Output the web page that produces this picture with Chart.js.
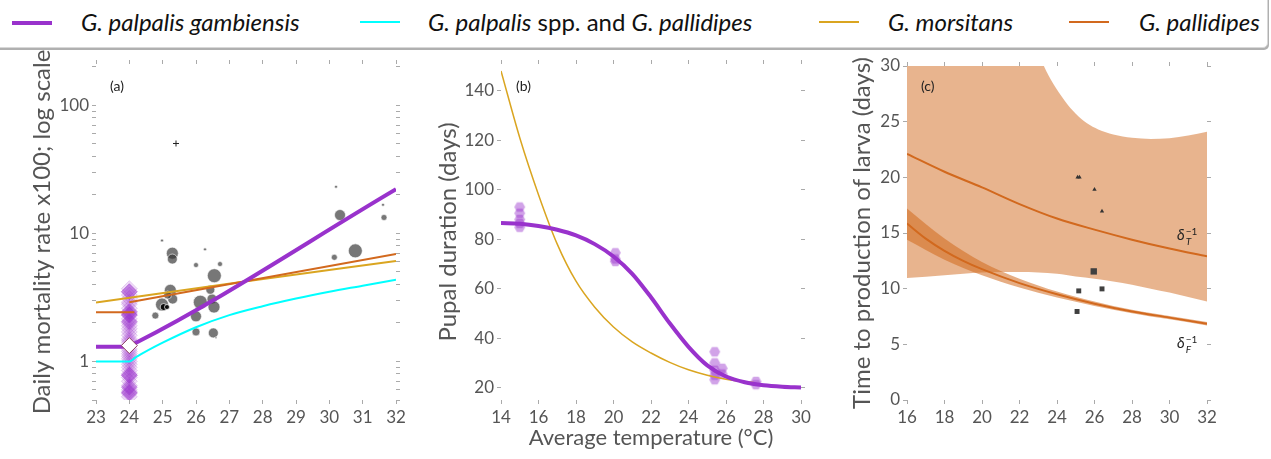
<!DOCTYPE html>
<html>
<head>
<meta charset="utf-8">
<script src="https://cdn.jsdelivr.net/npm/chart.js@4.4.1/dist/chart.umd.min.js"></script>
<style>
  body { margin: 0; width: 1271px; height: 459px; background: #fff; position: relative; overflow: hidden; font-family: Lato, sans-serif; }
  canvas { position: absolute; }
  #legend { position: absolute; left: -6px; top: -12px; width: 1272px; height: 58px; border: 1px solid #d8d8d8; border-radius: 5px; box-shadow: 1px 2px 0 #b0b0b0; background: #fff; }
  .sw { position: absolute; top: 32px; width: 40px; }
  .lt { position: absolute; top: 19px; font-size: 24px; line-height: 28px; color: #111; white-space: nowrap; }
  .panel { position: absolute; font-size: 14px; color: #222; }
  .dl { position: absolute; font-size: 15px; color: #222; white-space: nowrap; }
  .ss { display: inline-block; vertical-align: middle; font-size: 10px; line-height: 10px; margin-left: 1px; }
  .ss span { display: block; }
</style>
</head>
<body>
<div id="legend">
  <span class="sw" style="left:17px;height:4px;background:#9932cc"></span>
  <span class="lt" style="left:86px"><i>G. palpalis gambiensis</i></span>
  <span class="sw" style="left:365px;height:2px;background:#00ffff"></span>
  <span class="lt" style="left:433px"><i>G. palpalis</i> spp. and <i>G. pallidipes</i></span>
  <span class="sw" style="left:824px;height:2px;background:#daa520"></span>
  <span class="lt" style="left:893px"><i>G. morsitans</i></span>
  <span class="sw" style="left:1074px;height:2px;background:#d2691e"></span>
  <span class="lt" style="left:1144px"><i>G. pallidipes</i></span>
</div>

<canvas id="chartA" width="420" height="409" style="left:0;top:50px"></canvas>
<canvas id="chartB" width="420" height="409" style="left:420px;top:50px"></canvas>
<canvas id="chartC" width="431" height="409" style="left:840px;top:50px"></canvas>

<div class="panel" style="left:110px;top:77px">(a)</div>
<div class="panel" style="left:516px;top:77px">(b)</div>
<div class="panel" style="left:921px;top:77px">(c)</div>
<div class="dl" style="left:1177px;top:225px"><i>δ</i><span class="ss"><span>−1</span><span><i>T</i></span></span></div>
<div class="dl" style="left:1177px;top:333px"><i>δ</i><span class="ss"><span>−1</span><span><i>F</i></span></span></div>

<script>
// ---- panel (a): daily mortality, log scale ----
const tempTicksA = [23, 24, 25, 26, 27, 28, 29, 30, 31, 32];
const mortTicks = [0.5, 0.6, 0.7, 0.8, 0.9, 1, 2, 3, 4, 5, 6, 7, 8, 9, 10, 20, 30, 40, 50, 60, 70, 80, 90, 100, 200];
const mortLabels = [1, 10, 100];

const gambMortT = [23, 23.8, 24.0, 24.2, 32];
const gambMortV = [1.30, 1.30, 1.33, 1.40, 22.1];
const palpMortT = [23, 24, 24.2, 25, 26, 27, 28, 29, 30, 31, 32];
const palpMortV = [1.0, 1.0, 1.08, 1.4, 1.85, 2.3, 2.7, 3.1, 3.5, 3.9, 4.35];
const morsMortT = [23, 27.3, 32];
const morsMortV = [2.89, 4.15, 6.08];
const pallFlatT = [23, 24.15];
const pallFlatV = [2.42, 2.42];
const pallMortT = [24, 32];
const pallMortV = [2.9, 6.9];

// gambiensis observations at 24 °C (diamonds)
const gambObsV = [3.7, 3.5, 3.3, 3.1, 2.9, 2.8, 2.6, 2.4, 2.35, 2.3, 2.15, 2.0, 1.9, 1.8, 1.7, 1.6, 1.5, 1.45,
                  1.4, 1.25, 1.2, 1.15, 1.1, 1.05, 1.0, 0.95, 0.9, 0.85, 0.8, 0.78, 0.75, 0.7, 0.65, 0.6, 0.58, 0.56, 0.53];
const gambObsDarkV = [3.5, 2.45, 2.3, 2.05, 0.78, 0.63, 0.57];
const gambMeanV = 1.33;

// field observations (grey circles)
const fieldT = [24.98, 25.29, 25.29, 26.27, 26.0, 26.72, 26.55, 25.23, 25.30, 24.98, 24.78, 26.13, 26.0, 26.48, 26.54, 26.0, 26.52, 26.6,
                25.15, 26.43, 30.2, 30.32, 31.61, 31.64, 30.78, 30.15];
const fieldV = [8.8, 7.0, 6.3, 7.5, 5.66, 5.76, 4.67, 3.59, 3.07, 2.78, 2.28, 2.9, 2.25, 3.07, 2.66, 1.70, 1.67, 1.53,
                3.3, 3.63, 23.1, 13.9, 16.7, 13.3, 7.3, 6.5];
const fieldSize = [1.5, 6, 5, 1.5, 2.5, 2.5, 7, 6, 5, 6.5, 3.5, 7, 5.5, 5, 6, 4, 5, 1,
                   4, 4.5, 1.5, 5.5, 1.5, 3, 7, 3];
const blackT = [25.03, 25.13];
const blackV = [2.66, 2.66];
const plusT = [25.4];
const plusV = [50.3];

// ---- panel (b): pupal duration ----
const tempTicksB = [14, 16, 18, 20, 22, 24, 26, 28, 30];
const pupalTicks = [20, 40, 60, 80, 100, 120, 140];
const gambPupT = [14, 15, 16, 17, 18, 19, 20, 21, 22, 23, 24, 25, 26, 27, 28, 29, 30];
const gambPupV = [86.5, 86.2, 85.3, 83.8, 81.5, 78, 73, 66, 56.5, 46, 36.5, 29, 24.5, 22.2, 21, 20.4, 20.1];
const morsPupT = [14, 15, 16, 17, 18, 19, 20, 21, 22, 23, 24, 25, 26, 27, 27.5];
const morsPupV = [148, 121, 98, 78, 63, 52.5, 44.5, 38.5, 34, 30.2, 27.2, 25, 23.4, 22.4, 22.0];
const pupObsT = [15, 15, 15, 15, 15, 20.1, 20.1, 20.1, 25.4, 25.4, 25.4, 25.4, 25.4, 25.8, 25.8, 27.6, 27.6];
const pupObsV = [93, 90.5, 88, 86.4, 84.8, 74.5, 72, 71, 34.5, 30, 27, 25, 23.2, 27.8, 25.5, 22.5, 21.2];

// ---- panel (c): time to production of larva ----
const tempTicksC = [16, 18, 20, 22, 24, 26, 28, 30, 32];
const larvaTicks = [0, 5, 10, 15, 20, 25, 30];
const bandUpT = [16, 20, 22, 23.3, 23.8, 24.4, 25, 25.6, 26.2, 27, 28, 29, 30, 31, 32];
const bandUpV = [60, 43, 35.5, 30, 28.4, 26.9, 25.7, 24.85, 24.3, 23.85, 23.55, 23.45, 23.5, 23.75, 24.1];
const bandLoT = [16, 18, 20, 22, 24, 25, 26, 27, 28, 29, 30, 31, 32];
const bandLoV = [10.95, 11.2, 11.45, 11.5, 11.35, 11.1, 10.9, 10.65, 10.35, 10.0, 9.65, 9.25, 8.85];
const deltaTT = [16, 18, 20, 22, 24, 26, 28, 30, 32];
const deltaTV = [22.1, 20.5, 19.1, 17.6, 16.3, 15.3, 14.4, 13.6, 12.9];
const deltaFT = [16, 17, 18, 19, 20, 22, 24, 26, 28, 30, 32];
const deltaFV = [15.85, 14.5, 13.4, 12.5, 11.75, 10.5, 9.5, 8.65, 7.95, 7.4, 6.85];
const fBandT = [16, 18, 20, 22, 24, 26, 28, 30, 32];
const fBandUpV = [17.2, 14.5, 12.4, 10.9, 9.75, 8.85, 8.1, 7.55, 7.0];
const fBandLoV = [14.4, 12.6, 11.2, 10.1, 9.2, 8.45, 7.8, 7.25, 6.7];
const triT = [25.1, 25.2, 26.0, 26.4];
const triV = [20.0, 20.0, 18.9, 16.95];
const sqT = [25.96, 25.16, 26.4, 25.07];
const sqV = [11.55, 9.8, 9.98, 7.95];
const sqSize = [4.5, 3.5, 3.5, 3.5];

const PURPLE = '#9932cc', CYAN = '#00ffff', GOLD = '#daa520', ORANGE = '#d2691e';
const tickColor = '#555';
const tickFont = { family: 'Lato', size: 17 };

function pts(xs, ys) { return xs.map((x, i) => ({ x: x, y: ys[i] })); }
function fixSize(n) {
  return function (scale) { if (scale.isHorizontal()) scale.height = n; else scale.width = n; };
}
function setTicks(list) {
  return function (scale) { scale.ticks = list.map(v => ({ value: v })); };
}
function lineDs(xs, ys, color, width) {
  return { data: pts(xs, ys), borderColor: color, borderWidth: width, pointRadius: 0, fill: false, cubicInterpolationMode: 'monotone' };
}
function axis(type, pos, min, max, ticks, size, labels, title) {
  return {
    type: type, position: pos, min: min, max: max,
    afterFit: fixSize(size),
    afterBuildTicks: setTicks(ticks),
    border: { display: false },
    grid: { display: true, drawOnChartArea: false, drawTicks: true, tickLength: 4, color: '#aaa' },
    ticks: {
      display: labels !== null, autoSkip: false, maxRotation: 0, padding: 3,
      color: tickColor, font: tickFont,
      callback: function (v) { return labels && labels !== true ? (labels.includes(v) ? String(v) : '') : String(v); }
    },
    title: title ? { display: true, text: title.text, color: '#555', font: { family: 'Lato', size: title.size }, padding: title.padding } : { display: false }
  };
}

// hexagon marker for panel (b)
function hexagon(r, fill) {
  const c = document.createElement('canvas');
  c.width = c.height = 2 * r + 2;
  const g = c.getContext('2d');
  g.beginPath();
  for (let k = 0; k < 6; k++) {
    const a = Math.PI / 3 * k;
    g.lineTo(r + 1 + r * Math.cos(a), r + 1 + r * Math.sin(a));
  }
  g.closePath();
  g.fillStyle = fill;
  g.fill();
  return c;
}

const common = {
  responsive: false, animation: false,
  layout: { padding: 0 },
  plugins: { legend: { display: false }, tooltip: { enabled: false } }
};

new Chart(document.getElementById('chartA'), {
  type: 'line',
  data: {
    datasets: [
      { data: pts([24], [gambMeanV]), showLine: false, pointStyle: 'rectRot', pointRadius: 8,
        pointBackgroundColor: '#fff', pointBorderColor: '#8b3a62', pointBorderWidth: 1 },
      lineDs(gambMortT, gambMortV, PURPLE, 4),
      lineDs(pallMortT, pallMortV, ORANGE, 2),
      lineDs(pallFlatT, pallFlatV, ORANGE, 2),
      lineDs(morsMortT, morsMortV, GOLD, 2),
      lineDs(palpMortT, palpMortV, CYAN, 2),
      { data: pts(blackT, blackV), showLine: false, pointRadius: [3.5, 2.5],
        pointBackgroundColor: 'rgba(0,0,0,0.9)', pointBorderColor: 'rgba(255,255,255,0.7)', pointBorderWidth: 1 },
      { data: pts(fieldT, fieldV), showLine: false, pointRadius: fieldSize,
        pointBackgroundColor: 'rgba(55,55,55,0.68)', pointBorderColor: 'rgba(255,255,255,0.6)', pointBorderWidth: 1 },
      { data: pts(plusT, plusV), showLine: false, pointStyle: 'cross', pointRadius: 3,
        pointBorderColor: '#222', pointBorderWidth: 1 },
      { data: pts(gambObsDarkV.map(() => 24), gambObsDarkV), showLine: false, pointStyle: 'rectRot', pointRadius: 8,
        pointBackgroundColor: 'rgba(153,50,204,0.45)', pointBorderColor: 'rgba(153,50,204,0.3)', pointBorderWidth: 1 },
      { data: pts(gambObsV.map(() => 24), gambObsV), showLine: false, pointStyle: 'rectRot', pointRadius: 8,
        pointBackgroundColor: 'rgba(153,50,204,0.17)', pointBorderColor: 'rgba(153,50,204,0.2)', pointBorderWidth: 1 }
    ]
  },
  options: Object.assign({}, common, {
    scales: {
      x: axis('linear', 'bottom', 23, 32, tempTicksA, 59, true, null),
      x2: axis('linear', 'top', 23, 32, tempTicksA, 14, null, null),
      y: axis('logarithmic', 'left', 0.5, 210, mortTicks, 96, mortLabels,
        { text: 'Daily mortality rate x100; log scale', size: 24, padding: { top: 28, bottom: 0 } }),
      y2: axis('logarithmic', 'right', 0.5, 210, mortTicks, 24, null, null)
    }
  })
});

new Chart(document.getElementById('chartB'), {
  type: 'line',
  data: {
    datasets: [
      lineDs(gambPupT, gambPupV, PURPLE, 4),
      lineDs(morsPupT, morsPupV, GOLD, 1.5),
      { data: pts(pupObsT, pupObsV), showLine: false, pointStyle: hexagon(5.5, 'rgba(153,50,204,0.45)'), pointRadius: 6 }
    ]
  },
  options: Object.assign({}, common, {
    scales: {
      x: axis('linear', 'bottom', 14, 30, tempTicksB, 59, true,
        { text: 'Average temperature (°C)', size: 22, padding: { top: 0, bottom: 8 } }),
      x2: axis('linear', 'top', 14, 30, tempTicksB, 14, null, null),
      y: axis('linear', 'left', 15, 150.8, pupalTicks, 81, true,
        { text: 'Pupal duration (days)', size: 24, padding: { top: 14, bottom: 0 } }),
      y2: axis('linear', 'right', 15, 150.8, pupalTicks, 39, null, null)
    }
  })
});

new Chart(document.getElementById('chartC'), {
  type: 'line',
  data: {
    datasets: [
      { data: pts(triT, triV), showLine: false, pointStyle: 'triangle', pointRadius: 2.5,
        pointBackgroundColor: '#333', pointBorderColor: '#333', pointBorderWidth: 0 },
      { data: pts(sqT, sqV), showLine: false, pointStyle: 'rect', pointRadius: sqSize,
        pointBackgroundColor: '#404040', pointBorderColor: '#404040', pointBorderWidth: 0 },
      lineDs(deltaTT, deltaTV, ORANGE, 2),
      lineDs(deltaFT, deltaFV, ORANGE, 2),
      { data: pts(fBandT, fBandUpV), borderWidth: 0, pointRadius: 0, fill: '+1',
        backgroundColor: 'rgba(210,105,30,0.55)', cubicInterpolationMode: 'monotone' },
      { data: pts(fBandT, fBandLoV), borderWidth: 0, pointRadius: 0, fill: false, cubicInterpolationMode: 'monotone' },
      { data: pts(bandUpT, bandUpV), borderWidth: 0, pointRadius: 0, fill: { target: '+1' },
        backgroundColor: 'rgba(210,105,30,0.5)', cubicInterpolationMode: 'monotone' },
      { data: pts(bandLoT, bandLoV), borderWidth: 0, pointRadius: 0, fill: false, cubicInterpolationMode: 'monotone' }
    ]
  },
  options: Object.assign({}, common, {
    scales: {
      x: axis('linear', 'bottom', 16, 32, tempTicksC, 59, true, null),
      x2: axis('linear', 'top', 16, 32, tempTicksC, 16, null, null),
      y: axis('linear', 'left', 0, 30, larvaTicks, 67, true,
        { text: 'Time to production of larva (days)', size: 24, padding: { top: 8, bottom: 0 } }),
      y2: axis('linear', 'right', 0, 30, larvaTicks, 64, null, null)
    }
  })
});
</script>
</body>
</html>
